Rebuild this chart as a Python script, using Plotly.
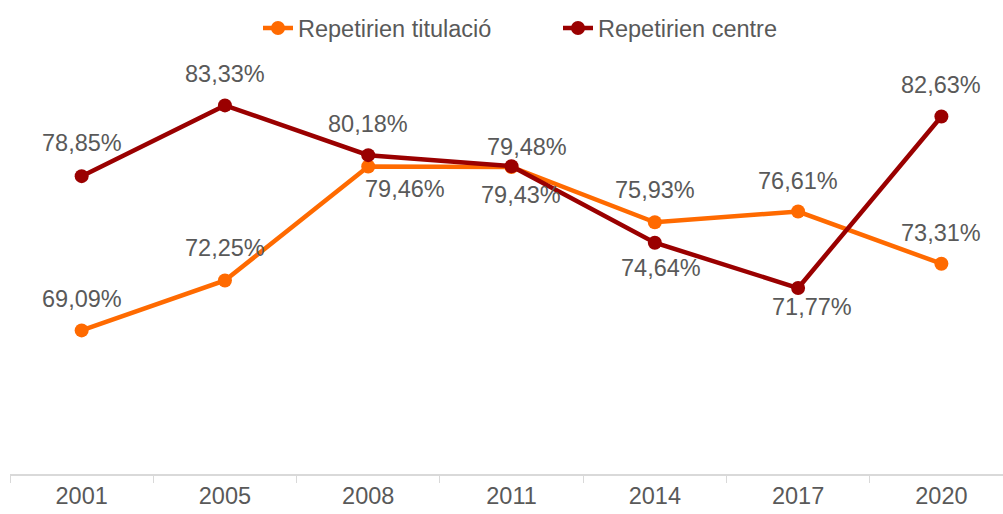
import plotly.graph_objects as go

years = ["2001", "2005", "2008", "2011", "2014", "2017", "2020"]
titulacio = [69.09, 72.25, 79.46, 79.43, 75.93, 76.61, 73.31]
centre = [78.85, 83.33, 80.18, 79.48, 74.64, 71.77, 82.63]
# label offsets in pixels (dx, dy), positive dy = above the point
titulacio_dx = [0, 0, 37, 9, 0, 0, 0]
titulacio_dy = [31, 32, -22, -28, 32, 31, 31]
centre_dx = [0, 0, 0, 15, 6, 14, 0]
centre_dy = [33, 31, 31, 19, -25, -19, 31]

ORANGE = "#FF6A00"
DARK = "#9A0000"
GREY = "#595959"
FONT = "Liberation Sans, Arial, sans-serif"
FS = 23.5

fig = go.Figure()
fig.add_trace(go.Scatter(x=years, y=titulacio, mode="lines+markers", name="Repetirien titulació",
                         line=dict(color=ORANGE, width=4.5), marker=dict(size=14, color=ORANGE)))
fig.add_trace(go.Scatter(x=years, y=centre, mode="lines+markers", name="Repetirien centre",
                         line=dict(color=DARK, width=4.5), marker=dict(size=14, color=DARK)))

def fmt(v):
    return f"{v:.2f}".replace(".", ",") + "%"

for vals, dxs, dys in ((titulacio, titulacio_dx, titulacio_dy), (centre, centre_dx, centre_dy)):
    for i, (v, dx, dy) in enumerate(zip(vals, dxs, dys)):
        fig.add_annotation(x=i, y=v, xref="x", yref="y", text=fmt(v), showarrow=False,
                           xshift=dx, yshift=dy, font=dict(family=FONT, size=FS, color=GREY))

fig.update_layout(
    width=1003, height=514,
    margin=dict(l=10, r=0, t=0, b=40),
    paper_bgcolor="white", plot_bgcolor="white",
    font=dict(family=FONT, size=FS, color=GREY),
    showlegend=True,
    legend=dict(orientation="h", x=(258 - 10) / 993, xanchor="left", y=0.987, yanchor="top",
                font=dict(family=FONT, size=FS, color=GREY), bgcolor="rgba(0,0,0,0)",
                entrywidth=255),
    xaxis=dict(type="category", range=[-0.5, 6.43], showgrid=False, showline=True,
               linecolor="#D9D9D9", linewidth=1.5, ticks="outside", tickson="boundaries",
               ticklen=7, tickcolor="#D9D9D9", tickfont=dict(family=FONT, size=FS, color=GREY)),
    yaxis=dict(range=[60, 90], showticklabels=False, showline=False, ticks="",
               showgrid=False, zeroline=False),
)

fig.write_html("out.html", config={"displayModeBar": False},
               post_script="document.body.style.margin='0';")
